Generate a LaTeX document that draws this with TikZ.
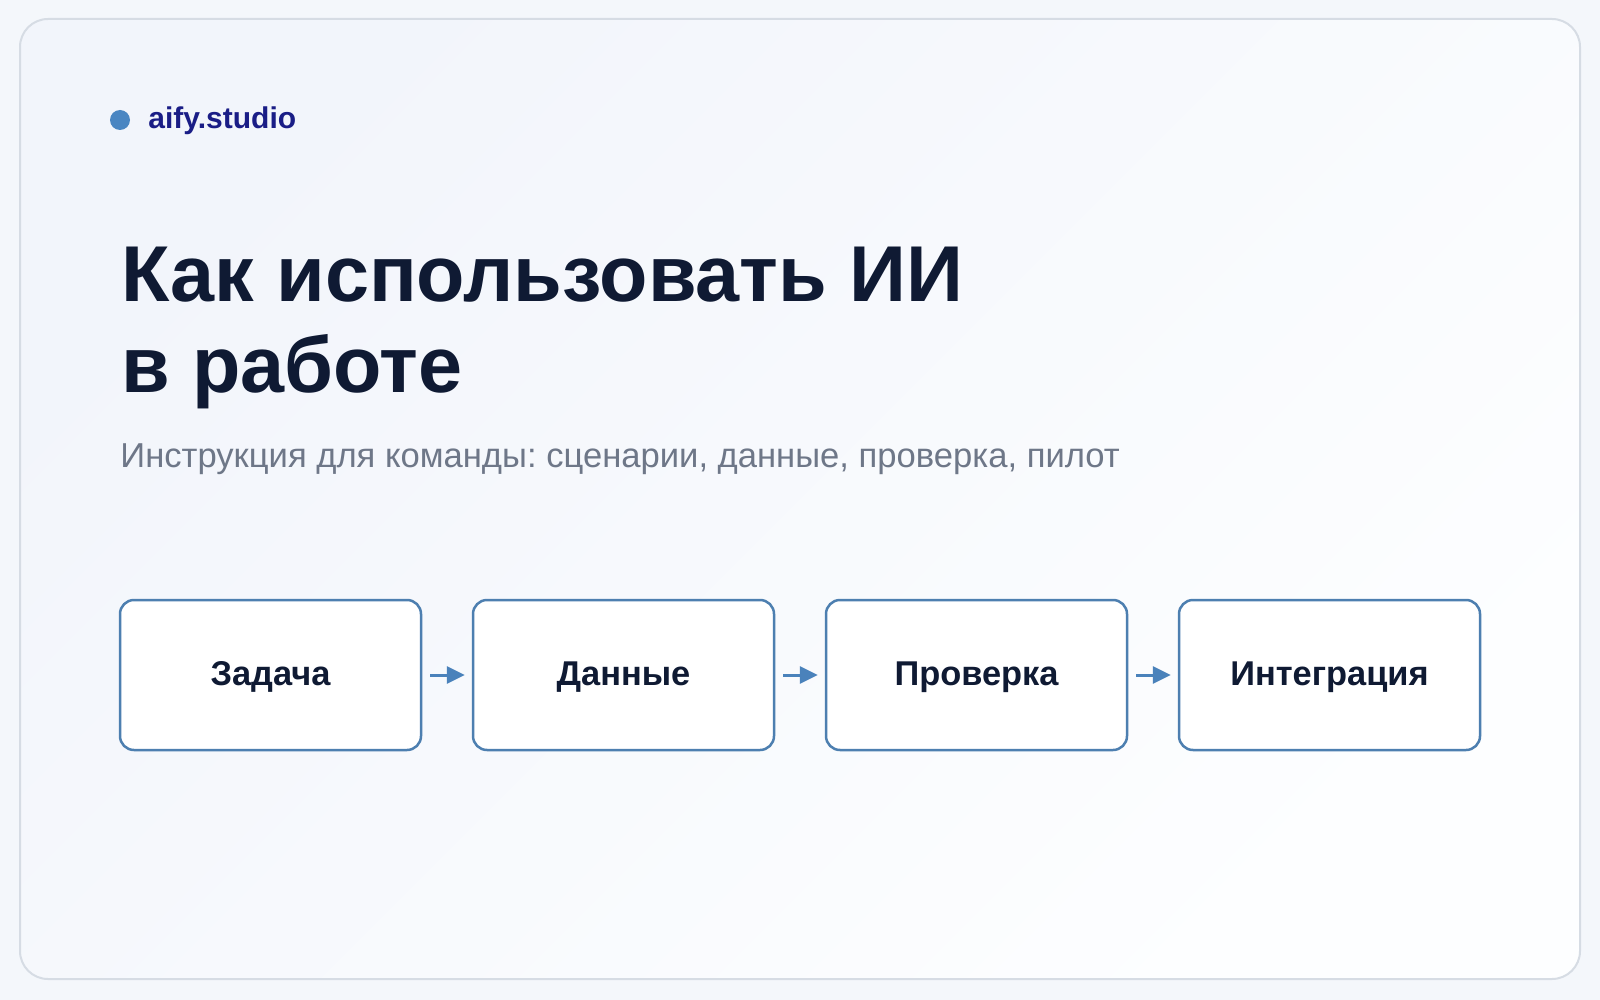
\documentclass[tikz,border=0pt]{standalone}
\usepackage{fontspec}
\setmainfont{Liberation Sans}
\usepackage{xcolor}
\usepackage{tikz}
\usetikzlibrary{arrows.meta,calc}
\frenchspacing

\definecolor{pagebg}{HTML}{F4F7FB}
\definecolor{cardtop}{HTML}{F2F5FB}
\definecolor{cardlow}{HTML}{FDFEFF}
\definecolor{cardline}{HTML}{D6DCE4}
\definecolor{brandink}{HTML}{1A1D86}
\definecolor{dotblue}{HTML}{4A86C2}
\definecolor{titleink}{HTML}{0F1A33}
\definecolor{subink}{HTML}{6E7788}
\definecolor{boxline}{HTML}{4D7FB0}
\definecolor{flowblue}{HTML}{4A82BB}

\tikzset{
    stagebox/.style={draw=boxline, fill=white, line width=1.25pt, rounded corners=7pt,
        minimum width=150.5pt, minimum height=75pt, inner sep=0pt,
        text height=12.6pt, text depth=2.6pt,
        font=\bfseries\fontsize{17.2}{20}\selectfont, text=titleink},
    flow/.style={-{Triangle[length=9pt,width=8.5pt]}, draw=flowblue, line width=1.5pt,
        shorten <=4pt, shorten >=3.5pt},
    plaintext/.style={anchor=base west, inner sep=0pt}
}

\begin{document}
\begin{tikzpicture}[x=0.5pt,y=-0.5pt]
            % page and card
            \fill[pagebg] (0,0) rectangle (1600,1000);
            \shade[left color=cardtop, right color=cardlow, shading angle=45, rounded corners=14pt]
                (20,19) rectangle (1580,979);
            \draw[cardline, line width=1pt, rounded corners=14pt] (20,19) rectangle (1580,979);
            % brand line
            \fill[dotblue] (120,120) circle (10);
            \node[plaintext, text=brandink, font=\bfseries\fontsize{15}{17}\selectfont] (brand) at (148,129) {aify.studio};
            % title and subtitle
            \node[plaintext, text=titleink, font=\bfseries\fontsize{39.6}{46}\selectfont] (title1) at (121,301) {Как использовать ИИ};
            \node[plaintext, text=titleink, font=\bfseries\fontsize{39.6}{46}\selectfont] (title2) at (121,392) {в работе};
            \node[plaintext, text=subink, font=\fontsize{17.3}{20}\selectfont] (subtitle) at (120,467) {Инструкция для команды: сценарии, данные, проверка, пилот};
            % four stages
            \foreach \i/\lbl in {1/Задача,2/Данные,3/Проверка,4/Интеграция}
            {
                \node[stagebox] (s\i) at ({270.5+353*(\i-1)},675) {\lbl};
            }
            % arrows between the stages
            \foreach \i/\j in {1/2,2/3,3/4}
            {
                \draw[flow] (s\i) -- (s\j);
            }
        \end{tikzpicture}
\end{document}
